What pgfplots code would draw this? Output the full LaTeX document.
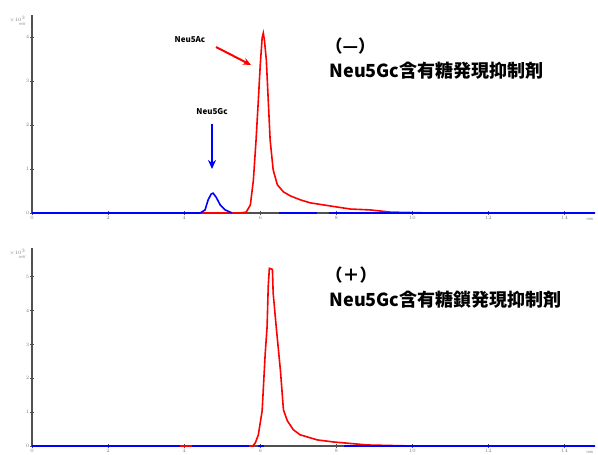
\documentclass[border=0pt]{standalone}
\usepackage{pgfplots}
\pgfplotsset{compat=1.18}
\usepackage{fontspec}
\setmainfont{Liberation Sans}
\newfontfamily\cjk{Noto Sans CJK JP}
\usetikzlibrary{arrows.meta}
\definecolor{axgray}{RGB}{80,80,80}
\pgfplotsset{
  chrom/.style={
    scale only axis, width=563pt, height=198pt,
    axis x line=bottom, axis y line=left,
    axis line style={-, axgray, line width=1.3pt},
    xmin=0, xmax=14.8,
    xtick={0,2,...,14}, minor xtick={1,3,...,13},
    minor y tick num=4,
    tick style={axgray, line width=0.8pt},
    major tick length=4pt, minor tick length=2.5pt,
    tick align=center,
    ticklabel style={font=\fontsize{4}{4}\selectfont, text=gray, inner sep=0.6pt},
    clip=false,
  }
}
\begin{document}
\begin{tikzpicture}
\useasboundingbox (-32pt,-242pt) rectangle (566pt,213pt);
% ---------- top panel ----------
\begin{axis}[chrom, at={(0pt,0pt)}, anchor=south west, ymin=0, ymax=4.5, ytick={0,1,2,3,4}]
\addplot[red, line width=1.6pt] coordinates {
(0,0) (5.47,0) (5.63,0.02) (5.74,0.18) (5.82,0.75) (5.89,1.66) (5.95,2.57) (6.0,3.36)
(6.05,3.98) (6.08,4.09) (6.11,3.93) (6.16,3.48) (6.21,2.57) (6.26,1.66) (6.34,0.98)
(6.45,0.64) (6.61,0.48) (6.79,0.39) (7.05,0.30) (7.32,0.23) (7.84,0.16) (8.37,0.09)
(8.89,0.07) (9.42,0.02) (10.5,0) (14.8,0)};
\addplot[blue, line width=1.6pt] coordinates {
(0,0) (3.0,0) (3.1,0) (4.42,0) (4.55,0.07) (4.63,0.30) (4.71,0.43) (4.76,0.45)
(4.84,0.36) (4.95,0.18) (5.08,0.07) (5.26,0)};
\addplot[blue, line width=1.6pt] coordinates {(6.5,0) (7.5,0)};
\addplot[blue, line width=1.6pt] coordinates {(7.8,0) (14.8,0)};
\end{axis}
% ---------- bottom panel ----------
\begin{axis}[chrom, at={(0pt,-233pt)}, anchor=south west, ymin=0, ymax=5.85, ytick={0,1,2,3,4,5}]
\addplot[red, line width=1.6pt] coordinates {
(0,0) (5.8,0) (5.87,0.09) (5.95,0.33) (6.05,1.04) (6.13,2.72) (6.18,3.52) (6.21,4.72)
(6.24,5.25) (6.32,5.22) (6.34,4.51) (6.42,3.52) (6.53,2.24) (6.61,1.07) (6.71,0.75)
(6.87,0.48) (7.05,0.33) (7.5,0.18) (7.92,0.12) (8.82,0.03) (10.0,0) (14.8,0)};
\addplot[blue, line width=1.6pt] coordinates {(0,0) (3.9,0)};
\addplot[blue, line width=1.6pt] coordinates {(4.2,0) (5.7,0)};
\addplot[blue, line width=1.6pt] coordinates {(5.95,0) (6.1,0)};
\addplot[blue, line width=1.6pt] coordinates {(8.2,0) (14.8,0)};
\end{axis}
% ---------- axis unit labels ----------
\node[font=\fontsize{4}{4}\selectfont, text=gray, align=right, anchor=north east] at (-3pt,200pt) {$\times10^3$\\mV};
\node[font=\fontsize{4}{4}\selectfont, text=gray, align=right, anchor=north east] at (-3pt,-33pt) {$\times10^3$\\mV};
\node[font=\fontsize{4}{4}\selectfont, text=gray, anchor=west] at (551pt,-6pt) {min};
\node[font=\fontsize{4}{4}\selectfont, text=gray, anchor=west] at (551pt,-239pt) {min};
% ---------- annotations ----------
\node[font=\cjk\bfseries\fontsize{8}{8}\selectfont] at (158pt,173pt) {Neu5Ac};
\draw[red, line width=2pt, -{Stealth[length=8pt,width=7pt]}] (184pt,166pt) -- (219pt,148pt);
\node[font=\cjk\bfseries\fontsize{8}{8}\selectfont] at (180pt,101pt) {Neu5Gc};
\draw[blue, line width=2pt, -{Stealth[length=9pt,width=8pt]}] (180pt,89pt) -- (180pt,44pt);
% ---------- titles ----------
\node[font=\cjk\bfseries\fontsize{17}{17}\selectfont, anchor=west] at (290pt,167pt) {（—）};
\node[font=\cjk\bfseries\fontsize{18}{18}\selectfont, anchor=west] at (294pt,142pt) {Neu5Gc含有糖発現抑制剤};
\node[font=\cjk\bfseries\fontsize{17}{17}\selectfont, anchor=west] at (290pt,-62pt) {（＋）};
\node[font=\cjk\bfseries\fontsize{18}{18}\selectfont, anchor=west] at (294pt,-87pt) {Neu5Gc含有糖鎖発現抑制剤};
\end{tikzpicture}
\end{document}
